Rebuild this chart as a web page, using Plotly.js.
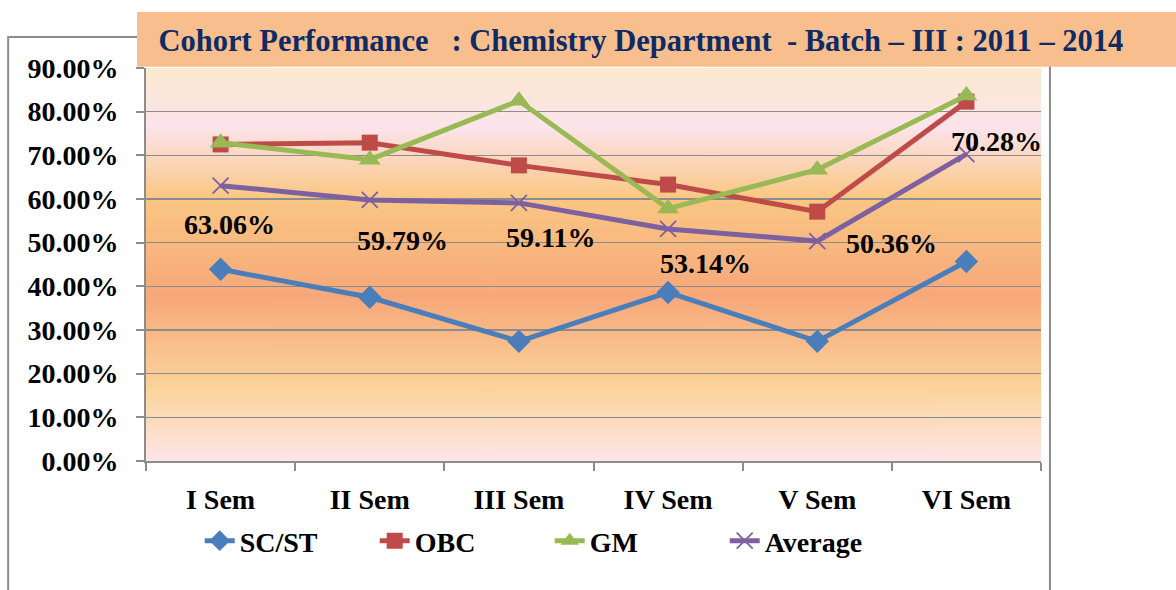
<!DOCTYPE html>
<html>
<head>
<meta charset="utf-8">
<script src="https://cdn.plot.ly/plotly-3.0.1.min.js"></script>
<style>html,body{margin:0;padding:0;background:#fff;}#chart{width:1176px;height:590px;}</style>
</head>
<body>
<div id="chart"></div>
<script>
// ---- data ----
const semesters = ["I Sem", "II Sem", "III Sem", "IV Sem", "V Sem", "VI Sem"];
const scst    = [43.9, 37.5, 27.4, 38.6, 27.4, 45.7];
const obc     = [72.5, 72.9, 67.7, 63.3, 57.1, 82.3];
const gm      = [72.9, 69.0, 82.5, 57.8, 66.7, 83.7];
const average = [63.06, 59.79, 59.11, 53.14, 50.36, 70.28];
const seriesNames = ["SC/ST", "OBC", "GM", "Average"];
const titleText = "Cohort Performance\u00A0\u00A0\u00A0: Chemistry Department\u00A0\u00A0- Batch \u2013 III : 2011 \u2013 2014";

// ---- styling (not data) ----
const FONT = "Liberation Serif";
const labelShift = [[9, -39], [33, -41], [32, -35], [37, -35], [74, -2], [30, 13]];

function gradientURL() {
  const c = document.createElement('canvas');
  c.width = 4; c.height = 400;
  const ctx = c.getContext('2d');
  const g = ctx.createLinearGradient(0, 0, 0, 400);
  g.addColorStop(0.00, '#FBE9CF');
  g.addColorStop(0.15, '#FCE4EC');
  g.addColorStop(0.33, '#FAC784');
  g.addColorStop(0.58, '#F7A87A');
  g.addColorStop(0.82, '#FBD49C');
  g.addColorStop(1.00, '#FDE6EA');
  ctx.fillStyle = g;
  ctx.fillRect(0, 0, 4, 400);
  return c.toDataURL('image/png');
}

const lineW = 5;
const traces = [
  {x: semesters, y: scst, name: seriesNames[0], mode: 'lines+markers',
   line: {color: '#4A7EBB', width: lineW}, marker: {symbol: 'diamond', size: 18, color: '#4A7EBB'}},
  {x: semesters, y: obc, name: seriesNames[1], mode: 'lines+markers',
   line: {color: '#BE4B48', width: lineW}, marker: {symbol: 'square', size: 16, color: '#BE4B48'}},
  {x: semesters, y: gm, name: seriesNames[2], mode: 'lines+markers',
   line: {color: '#98B954', width: lineW}, marker: {symbol: 'triangle-up', size: 19, color: '#98B954'}},
  {x: semesters, y: average, name: seriesNames[3], mode: 'lines+markers',
   line: {color: '#7D60A0', width: lineW}, marker: {symbol: 'x-thin', size: 16, color: '#7D60A0', line: {color: '#7D60A0', width: 1.8}}}
];

const annotations = average.map((v, i) => ({
  x: semesters[i], y: v, xref: 'x', yref: 'y',
  text: '<b>' + v.toFixed(2) + '%</b>', showarrow: false,
  xshift: labelShift[i][0], yshift: labelShift[i][1],
  font: {family: FONT, size: 28, color: '#000'}
}));

const layout = {
  width: 1176, height: 590,
  margin: {l: 146, r: 135, t: 68, b: 129},
  paper_bgcolor: '#ffffff',
  plot_bgcolor: 'rgba(0,0,0,0)',
  font: {family: FONT},
  title: {text: '<b>' + titleText + '</b>', x: 0.545, xanchor: 'center', xref: 'container',
          y: 0.932, yanchor: 'middle', yref: 'container',
          font: {family: FONT, size: 30.5, color: '#0F2B64'}},
  showlegend: true,
  legend: {orientation: 'h', x: 0.060, xanchor: 'left', y: -0.14, yanchor: 'top',
           font: {family: FONT, size: 28, color: '#000', weight: 'bold'},
           entrywidth: 130, bgcolor: 'rgba(0,0,0,0)', traceorder: 'normal'},
  xaxis: {type: 'category', range: [-0.5, 5.5], tickson: 'boundaries',
          showgrid: false, showline: true, linecolor: '#8C8C8C', linewidth: 2,
          ticks: 'outside', ticklen: 8, tickwidth: 2, tickcolor: '#8C8C8C',
          ticklabelstandoff: 12,
          tickfont: {family: FONT, size: 28, color: '#000', weight: 'bold'}, fixedrange: true},
  yaxis: {range: [0, 90], dtick: 10, tick0: 0, tickformat: '.2f', ticksuffix: '%',
          showgrid: true, gridcolor: '#8C8C8C', gridwidth: 1.5, zeroline: false,
          showline: true, linecolor: '#8C8C8C', linewidth: 2,
          ticks: 'outside', ticklen: 8, tickwidth: 2, tickcolor: '#8C8C8C',
          ticklabelstandoff: 12,
          tickfont: {family: FONT, size: 28, color: '#000', weight: 'bold'}, fixedrange: true},
  images: [{source: gradientURL(), xref: 'paper', yref: 'paper', x: 0, y: 1, sizex: 1, sizey: 1,
            xanchor: 'left', yanchor: 'top', sizing: 'stretch', layer: 'below'}],
  shapes: [
    {type: 'rect', xref: 'paper', yref: 'paper', x0: -0.154, x1: 1.010, y0: -0.40, y1: 1.079,
     line: {color: '#8C8C8C', width: 2}, fillcolor: 'rgba(0,0,0,0)', layer: 'below'},
    {type: 'rect', xref: 'paper', yref: 'paper', x0: -0.010, x1: 1.20, y0: 1.003, y1: 1.1425,
     line: {width: 0}, fillcolor: '#F8BE8E', layer: 'above'}
  ],
  annotations: annotations
};

Plotly.newPlot('chart', traces, layout, {displayModeBar: false, staticPlot: true});
</script>
</body>
</html>
